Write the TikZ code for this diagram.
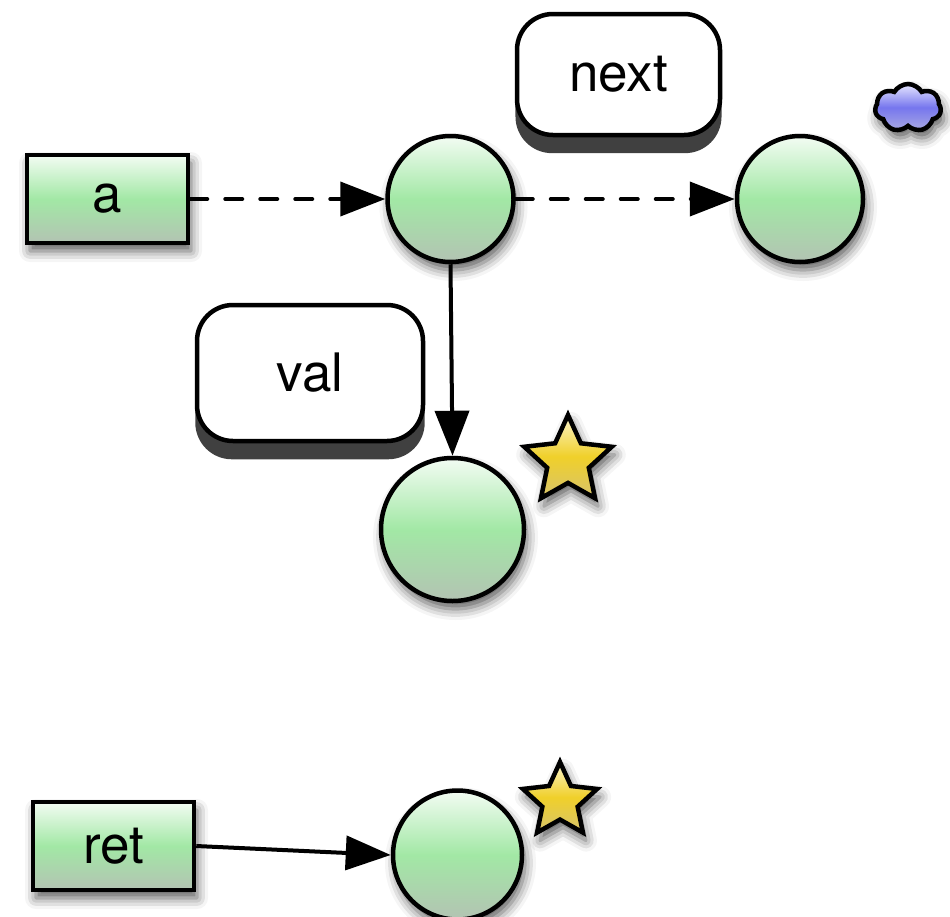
\documentclass[tikz,border=0pt]{standalone}
\usepackage{fontspec}
\setmainfont{TeX Gyre Heros}
\usetikzlibrary{arrows.meta,shapes.geometric,shapes.symbols,shadows,shadows.blur}

% fill colours
\definecolor{gtop}{HTML}{F3FCF3}
\definecolor{gmid}{HTML}{A2E8A5}
\definecolor{gbot}{HTML}{B3C3B3}
\definecolor{ytop}{HTML}{FBF4CC}
\definecolor{ymid}{HTML}{F0D02A}
\definecolor{ybot}{HTML}{D6C36C}
\definecolor{btop}{HTML}{E6E6FF}
\definecolor{bmid}{HTML}{7676EE}
\definecolor{bbot}{HTML}{AAAAE2}

\tikzset{
  outline/.style={draw=black, line width=4.5pt},
  greenfill/.style={top color=gtop, bottom color=gbot, middle color=gmid},
  soft/.style={blur shadow={shadow xshift=3pt, shadow yshift=-8pt,
      shadow blur radius=11pt, shadow opacity=65}},
  label/.style={font=\fontsize{53}{58}\selectfont},
  varbox/.style={outline, greenfill, soft, rectangle, inner sep=0pt,
      minimum width=161pt, minimum height=88pt, label},
  obj/.style={outline, greenfill, soft, circle, inner sep=0pt, minimum size=126pt},
  tag/.style={outline, fill=white, rectangle, rounded corners=36pt, inner sep=0pt,
      label, general shadow={fill=black!75, shadow yshift=-17pt, shadow scale=1.015}},
  mark star/.style={outline, soft, star, star points=5, star point ratio=2.1,
      inner sep=0pt, top color=ytop, bottom color=ybot, middle color=ymid},
  mark cloud/.style={outline, soft, cloud, cloud puffs=7, cloud puff arc=120,
      aspect=1.4, inner sep=0pt, minimum width=66pt, minimum height=48pt,
      top color=btop, bottom color=bbot, middle color=bmid},
  link/.style={line width=4pt, -{Triangle[length=45pt,width=34pt]}},
  weak/.style={link, dash pattern=on 17pt off 18pt, line cap=round},
}

\begin{document}
\begin{tikzpicture}[x=1pt, y=-1pt]
  \path[use as bounding box] (0,0) rectangle (950,916);

  % top row: variable a and the two list cells
  \node[varbox] (a) at (107.5,199) {a};
  \node[obj] (c1) at (450.5,199) {};
  \node[obj] (c2) at (800,199) {};
  \node[mark cloud] (cl) at (908,108) {};

  % field labels
  \node[tag, minimum width=203pt, minimum height=121pt] (next) at (618.5,74.5) {next};
  \node[tag, minimum width=226pt, minimum height=136pt] (val) at (310,373) {val};

  % value cell and its marker
  \node[obj, minimum size=143pt] (c3) at (452.5,529.5) {};
  \node[mark star, minimum size=92pt] (s1) at (568,461) {};

  % bottom row: variable ret
  \node[varbox] (ret) at (113.5,846) {ret};
  \node[obj, minimum size=129pt] (c4) at (457.5,855) {};
  \node[mark star, minimum size=78pt] (s2) at (560,801) {};

  % connectors
  \draw[weak] (a.east) -- (c1.west);
  \draw[weak] (c1.east) -- (c2.west);
  \draw[link] (c1.south) -- (c3.north);
  \draw[link] (ret.east) -- (c4.west);
\end{tikzpicture}
\end{document}
